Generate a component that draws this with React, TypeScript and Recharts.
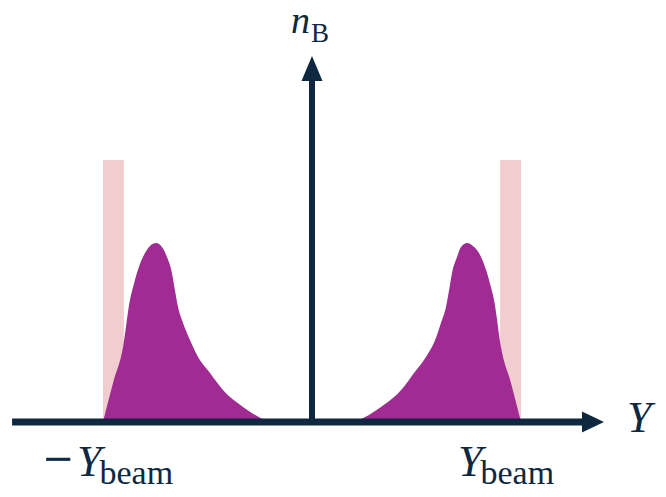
import { ComposedChart, Area, XAxis, YAxis, ReferenceLine } from 'recharts';

// beam-edge positions (units of Y_beam) and density samples
const beamEdges = [-1, 1];
const leftPos = [-1.0, -0.952, -0.904, -0.871, -0.856, -0.833, -0.799, -0.775, -0.746, -0.718, -0.694, -0.67, -0.656, -0.641, -0.617, -0.584, -0.545, -0.488, -0.426, -0.33, -0.211];
const leftVal = [0, 0.149, 0.286, 0.466, 0.515, 0.58, 0.645, 0.672, 0.683, 0.668, 0.63, 0.569, 0.504, 0.439, 0.378, 0.313, 0.248, 0.187, 0.122, 0.057, 0];
const rightPos = [0.211, 0.33, 0.435, 0.488, 0.545, 0.589, 0.617, 0.641, 0.656, 0.67, 0.694, 0.713, 0.742, 0.77, 0.799, 0.833, 0.856, 0.871, 0.904, 0.952, 1.0];
const rightVal = [0, 0.057, 0.13, 0.187, 0.248, 0.313, 0.378, 0.439, 0.504, 0.569, 0.63, 0.668, 0.683, 0.672, 0.645, 0.58, 0.515, 0.466, 0.286, 0.149, 0];
// shaded band at each beam edge
const leftBandPos = [-1.0, -0.9];
const rightBandPos = [0.9, 1.0];
const bandHeight = [1, 1];
// arrow extents
const xAxisRange = [-1.435, 1.397];
const yAxisTop = 1.397;

const toPoints = (xs: number[], ys: number[]) => xs.map((x, i) => ({ x, y: ys[i] }));
const leftData = toPoints(leftPos, leftVal);
const rightData = toPoints(rightPos, rightVal);
const leftBand = toPoints(leftBandPos, bandHeight);
const rightBand = toPoints(rightBandPos, bandHeight);

const NAVY = '#0e2841';
const PURPLE = '#a02b93';
const PINK = '#f2cdcf';
const SERIF = '"Liberation Serif", "DejaVu Serif", serif';

const HorizontalArrow = (props: any) => {
  const { x1, y1, x2 } = props;
  return (
    <g>
      <line x1={x1} y1={y1} x2={x2 - 18} y2={y1} stroke={NAVY} strokeWidth={7} />
      <polygon points={`${x2},${y1} ${x2 - 22},${y1 - 10.5} ${x2 - 22},${y1 + 10.5}`} fill={NAVY} />
      <text x={x2 + 23} y={y1 + 10} fill={NAVY} fontFamily={SERIF} fontStyle="italic" fontSize={44}>
        Y
      </text>
    </g>
  );
};

const VerticalArrow = (props: any) => {
  const { x1, y1, y2 } = props;
  const top = Math.min(y1, y2);
  const bottom = Math.max(y1, y2);
  return (
    <g>
      <line x1={x1} y1={bottom} x2={x1} y2={top + 20} stroke={NAVY} strokeWidth={6} />
      <polygon points={`${x1},${top} ${x1 - 10.5},${top + 25} ${x1 + 10.5},${top + 25}`} fill={NAVY} />
      <text x={x1 - 21} y={top - 23} fill={NAVY} fontFamily={SERIF}>
        <tspan fontStyle="italic" fontSize={38}>n</tspan>
        <tspan fontSize={27} dx={1} dy={9}>B</tspan>
      </text>
    </g>
  );
};

const BeamTick = (props: any) => {
  const { x, y, payload } = props;
  const neg = payload.value < 0;
  const yStart = neg ? x - 26 : x - 63;
  const base = y + 28;
  return (
    <g>
      {neg && (
        <text x={x - 59} y={base} fill={NAVY} stroke={NAVY} strokeWidth={0.8} fontFamily={SERIF} fontSize={50}>
          −
        </text>
      )}
      <text x={yStart} y={base} fill={NAVY} fontFamily={SERIF}>
        <tspan fontStyle="italic" fontSize={44}>Y</tspan>
        <tspan fontSize={34} dx={-2} dy={8}>beam</tspan>
      </text>
    </g>
  );
};

export default function App() {
  return (
    <div style={{ position: 'absolute', left: 0, top: 0, background: '#fff' }}>
      <ComposedChart width={666} height={497} margin={{ top: 0, right: 0, left: 0, bottom: 0 }}>
        <XAxis
          type="number"
          dataKey="x"
          domain={[-1.4928, 1.6938]}
          allowDataOverflow
          ticks={beamEdges}
          height={57}
          axisLine={false}
          tickLine={false}
          tick={<BeamTick />}
        />
        <YAxis type="number" dataKey="y" domain={[-0.0687, 1.6107]} allowDataOverflow hide />

        <Area data={leftBand} dataKey="y" type="linear" baseValue={0} fill={PINK} fillOpacity={1} stroke="none" dot={false} activeDot={false} isAnimationActive={false} />
        <Area data={rightBand} dataKey="y" type="linear" baseValue={0} fill={PINK} fillOpacity={1} stroke="none" dot={false} activeDot={false} isAnimationActive={false} />
        <Area data={leftData} dataKey="y" type="monotone" baseValue={0} fill={PURPLE} fillOpacity={1} stroke="none" dot={false} activeDot={false} isAnimationActive={false} />
        <Area data={rightData} dataKey="y" type="monotone" baseValue={0} fill={PURPLE} fillOpacity={1} stroke="none" dot={false} activeDot={false} isAnimationActive={false} />

        <ReferenceLine
          segment={[{ x: xAxisRange[0], y: 0 }, { x: xAxisRange[1], y: 0 }]}
          shape={<HorizontalArrow />}
        />
        <ReferenceLine
          segment={[{ x: 0, y: 0 }, { x: 0, y: yAxisTop }]}
          shape={<VerticalArrow />}
        />
      </ComposedChart>
    </div>
  );
}
